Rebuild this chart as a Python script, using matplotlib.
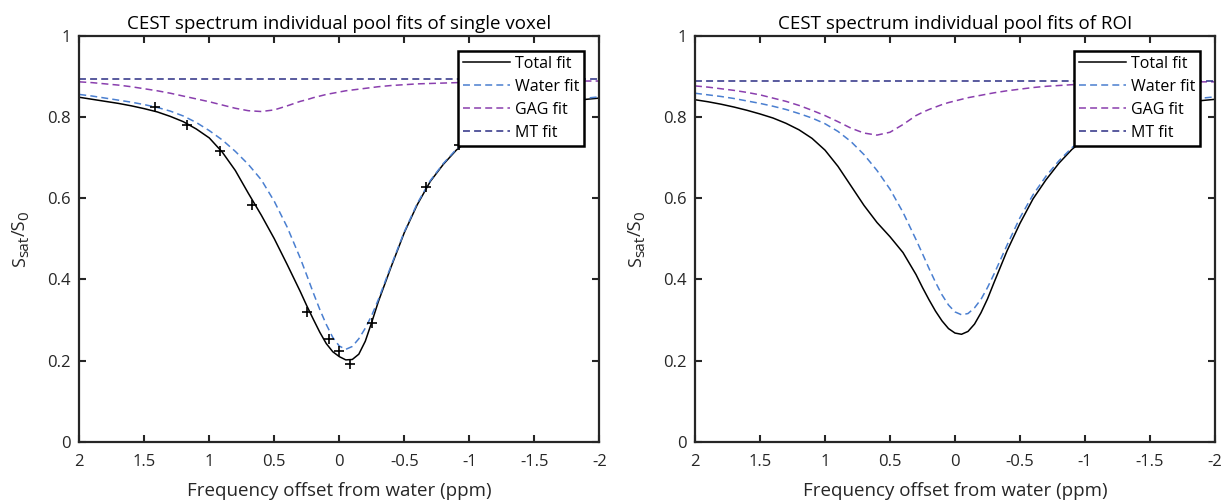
import matplotlib
matplotlib.use("Agg")
import matplotlib.pyplot as plt
from matplotlib.ticker import FuncFormatter

plt.rcParams["font.family"] = ["Open Sans", "DejaVu Sans"]
plt.rcParams["lines.scale_dashes"] = False

# 주파수 오프셋 (ppm) - 두 패널 공통 격자
ppm = [2.0, 1.9, 1.8, 1.7, 1.6, 1.5, 1.4, 1.3, 1.2, 1.1, 1.0, 0.9, 0.8, 0.7,
       0.6, 0.5, 0.4, 0.3, 0.25, 0.2, 0.15, 0.1, 0.05, 0.0, -0.05, -0.1,
       -0.15, -0.2, -0.25, -0.3, -0.4, -0.5, -0.6, -0.7, -0.8, -0.9, -1.0,
       -1.1, -1.2, -1.3, -1.4, -1.5, -1.6, -1.7, -1.8, -1.9, -2.0]

# 단일 복셀 (왼쪽)
voxel_total = [0.848, 0.843, 0.838, 0.833, 0.827, 0.820, 0.812, 0.801, 0.788,
               0.770, 0.748, 0.713, 0.668, 0.612, 0.558, 0.500, 0.436, 0.370,
               0.335, 0.302, 0.270, 0.242, 0.222, 0.210, 0.202, 0.203, 0.216,
               0.248, 0.295, 0.345, 0.432, 0.515, 0.584, 0.641, 0.683, 0.718,
               0.745, 0.767, 0.785, 0.800, 0.812, 0.821, 0.828, 0.834, 0.839,
               0.843, 0.846]
voxel_water = [0.855, 0.851, 0.846, 0.841, 0.836, 0.830, 0.823, 0.814, 0.802,
               0.786, 0.766, 0.743, 0.715, 0.683, 0.645, 0.592, 0.528, 0.452,
               0.410, 0.367, 0.326, 0.289, 0.257, 0.236, 0.228, 0.235, 0.254,
               0.280, 0.312, 0.350, 0.435, 0.517, 0.587, 0.643, 0.685, 0.720,
               0.748, 0.771, 0.790, 0.805, 0.817, 0.826, 0.833, 0.838, 0.842,
               0.846, 0.849]
voxel_gag = [0.886, 0.884, 0.881, 0.878, 0.874, 0.869, 0.864, 0.858, 0.851,
             0.844, 0.837, 0.829, 0.821, 0.815, 0.813, 0.817, 0.827, 0.838,
             0.842, 0.847, 0.851, 0.855, 0.858, 0.861, 0.864, 0.866, 0.868,
             0.870, 0.872, 0.874, 0.877, 0.879, 0.881, 0.882, 0.883, 0.884,
             0.885, 0.886, 0.886, 0.887, 0.887, 0.887, 0.888, 0.888, 0.888,
             0.888, 0.888]
voxel_mt = [0.893] * len(ppm)

# 측정점 (왼쪽)
pts_ppm = [1.42, 1.17, 0.92, 0.67, 0.25, 0.08, 0.0, -0.08, -0.25, -0.67, -0.92]
pts_val = [0.824, 0.781, 0.717, 0.583, 0.320, 0.254, 0.224, 0.193, 0.292, 0.627, 0.730]

# ROI (오른쪽)
roi_total = [0.842, 0.837, 0.831, 0.824, 0.816, 0.807, 0.797, 0.784, 0.768,
             0.747, 0.718, 0.678, 0.630, 0.582, 0.540, 0.505, 0.466, 0.412,
             0.380, 0.350, 0.322, 0.298, 0.279, 0.268, 0.265, 0.272, 0.290,
             0.318, 0.352, 0.392, 0.470, 0.538, 0.598, 0.645, 0.686, 0.720,
             0.746, 0.767, 0.784, 0.798, 0.809, 0.818, 0.825, 0.831, 0.836,
             0.840, 0.843]
roi_water = [0.858, 0.854, 0.850, 0.845, 0.839, 0.833, 0.826, 0.818, 0.808,
             0.797, 0.783, 0.764, 0.739, 0.707, 0.668, 0.622, 0.565, 0.498,
             0.463, 0.427, 0.393, 0.362, 0.337, 0.320, 0.313, 0.316, 0.330,
             0.351, 0.380, 0.413, 0.484, 0.552, 0.608, 0.654, 0.692, 0.724,
             0.750, 0.771, 0.788, 0.802, 0.814, 0.823, 0.831, 0.837, 0.842,
             0.846, 0.849]
roi_gag = [0.876, 0.873, 0.869, 0.865, 0.860, 0.854, 0.846, 0.838, 0.828,
           0.816, 0.803, 0.788, 0.772, 0.760, 0.755, 0.762, 0.781, 0.803,
           0.811, 0.818, 0.824, 0.830, 0.835, 0.839, 0.843, 0.847, 0.850,
           0.853, 0.856, 0.859, 0.864, 0.868, 0.872, 0.875, 0.877, 0.879,
           0.880, 0.881, 0.882, 0.883, 0.884, 0.884, 0.885, 0.885, 0.886,
           0.886, 0.886]
roi_mt = [0.888] * len(ppm)

titles = ["CEST spectrum individual pool fits of single voxel",
          "CEST spectrum individual pool fits of ROI"]
labels = ["Total fit", "Water fit", "GAG fit", "MT fit"]
xticks = [2, 1.5, 1, 0.5, 0, -0.5, -1, -1.5, -2]
yticks = [0, 0.2, 0.4, 0.6, 0.8, 1]

C_WATER = "#4a7fd0"
C_GAG = "#8a3fae"
C_MT = "#2b2d84"
AX_COLOR = "#262626"
DASH = (0, (5, 3))

W_PX, H_PX = 1223, 500


def fmt(v, pos):
    return "%g" % v


# 세로 라벨 S_sat/S_0 (아래첨자를 조금 크게 쓰기 위해 조각으로 배치)
def stacked_ylabel(fig, x_px, yc_px, parts):
    r = fig.canvas.get_renderer()
    items = []
    for txt, size, drop in parts:
        t = fig.text(0, 0, txt, fontsize=size, rotation=90,
                     rotation_mode="anchor", ha="left", va="baseline",
                     color=AX_COLOR)
        items.append((t, drop))
    lens = [t.get_window_extent(r).height for t, _ in items]
    yb = (H_PX - yc_px) - sum(lens) / 2
    for (t, drop), L in zip(items, lens):
        t.set_position(((x_px + drop) / W_PX, yb / H_PX))
        yb += L


fig = plt.figure(figsize=(W_PX / 100, H_PX / 100), dpi=100)
ax1 = fig.add_axes([79.3 / W_PX, 58 / H_PX, 520 / W_PX, 406.5 / H_PX])
ax2 = fig.add_axes([695 / W_PX, 58 / H_PX, 520 / W_PX, 406.5 / H_PX])

panels = [
    (ax1, voxel_total, voxel_water, voxel_gag, voxel_mt, True),
    (ax2, roi_total, roi_water, roi_gag, roi_mt, False),
]

for i, (ax, tot, wat, gag, mt, show_pts) in enumerate(panels):
    ax.plot(ppm, tot, color="black", lw=1.1, label=labels[0])
    ax.plot(ppm, wat, color=C_WATER, lw=1.1, ls=DASH, label=labels[1])
    ax.plot(ppm, gag, color=C_GAG, lw=1.1, ls=DASH, label=labels[2])
    ax.plot(ppm, mt, color=C_MT, lw=1.1, ls=DASH, label=labels[3])
    if show_pts:
        ax.plot(pts_ppm, pts_val, "+", color="black", ms=7.5, mew=1.2)

    ax.set_xlim(2, -2)
    ax.set_ylim(0, 1)
    ax.set_xticks(xticks)
    ax.set_yticks(yticks)
    ax.xaxis.set_major_formatter(FuncFormatter(fmt))
    ax.yaxis.set_major_formatter(FuncFormatter(fmt))
    ax.tick_params(direction="in", top=True, right=True, length=5, width=1.5,
                   colors=AX_COLOR, labelsize=12)
    ax.tick_params(axis="x", pad=8.5)
    ax.tick_params(axis="y", pad=6)
    for sp in ax.spines.values():
        sp.set_linewidth(1.6)
        sp.set_color(AX_COLOR)

    ax.set_title(titles[i], fontsize=13.5, color="black", pad=5)
    ax.set_xlabel("Frequency offset from water (ppm)", fontsize=13.5,
                  color=AX_COLOR, labelpad=9)

    leg = ax.legend(loc="upper right", bbox_to_anchor=(0.971, 0.962),
                    borderaxespad=0, fontsize=11.5, frameon=True,
                    fancybox=False, framealpha=1, edgecolor="black",
                    handlelength=2.94, handletextpad=0.31, borderpad=0.3,
                    labelspacing=0.44)
    leg.get_frame().set_linewidth(1.8)

ylabel_parts = [("S", 13, 0), ("sat", 11, 3.5), ("/S", 13, 0), ("0", 11, 3.5)]
stacked_ylabel(fig, 25, 239, ylabel_parts)
stacked_ylabel(fig, 641, 239, ylabel_parts)

fig.savefig("out.png", dpi=100)
